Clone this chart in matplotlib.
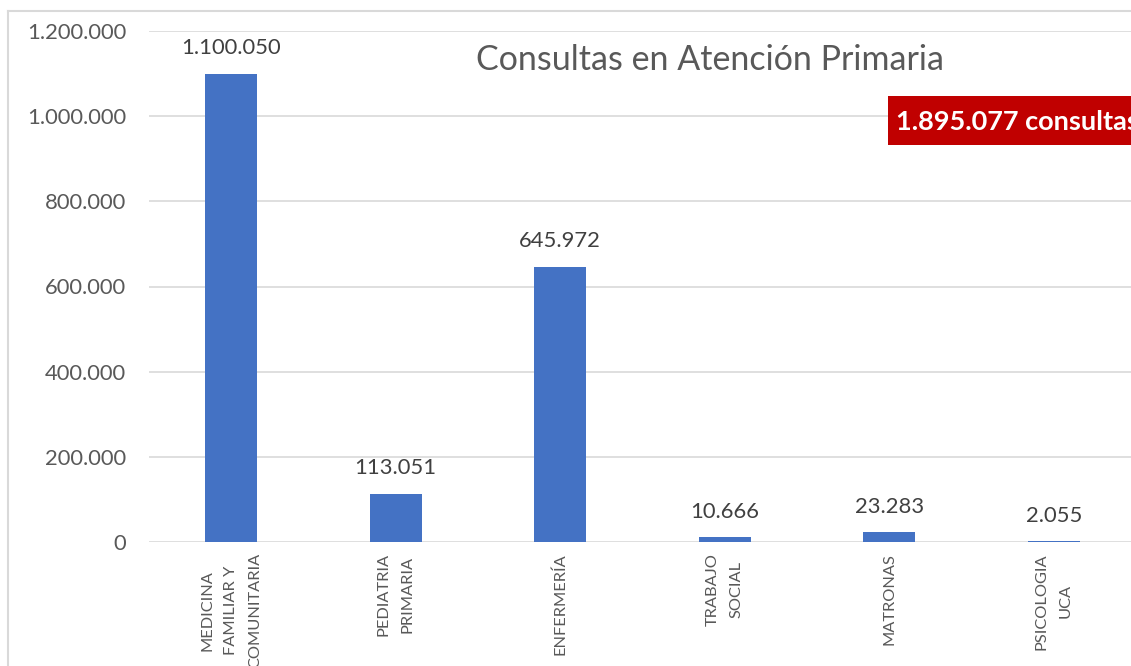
import matplotlib
matplotlib.use("Agg")
import matplotlib.pyplot as plt
from matplotlib.lines import Line2D
from matplotlib.patches import Rectangle

categories = ["MEDICINA\nFAMILIAR Y\nCOMUNITARIA", "PEDIATRIA\nPRIMARIA", "ENFERMERÍA",
              "TRABAJO\nSOCIAL", "MATRONAS", "PSICOLOGIA\nUCA"]
values = [1100050, 113051, 645972, 10666, 23283, 2055]
yticks = [0, 200000, 400000, 600000, 800000, 1000000, 1200000]
title = "Consultas en Atención Primaria"
total_label = "1.895.077 consultas"

def fmt(v):
    return f"{v:,}".replace(",", ".")

plt.rcParams['font.family'] = ['Lato', 'DejaVu Sans']

W, H = 1131, 666
fig = plt.figure(figsize=(W / 100, H / 100), dpi=100)
fig.patch.set_facecolor("white")

ax = fig.add_axes([149 / W, 124 / H, 987 / W, 511 / H])
x = list(range(len(categories)))
ax.bar(x, values, width=0.316, color="#4472C4", zorder=3)
ax.set_xlim(-0.5, 5.5)
ax.set_ylim(0, 1200000)
ax.set_yticks(yticks)
ax.set_yticklabels([fmt(v) for v in yticks], color="#595959", fontsize=15.8)
ax.yaxis.grid(True, color="#D9D9D9", linewidth=1.2, zorder=0)
ax.set_axisbelow(True)
for s in ax.spines.values():
    s.set_visible(False)
ax.tick_params(axis="y", length=0, pad=16.5)
ax.tick_params(axis="x", length=0, pad=8)
ax.set_xticks(x)
ax.set_xticklabels(categories, rotation=90, ha="center", va="top",
                   multialignment="center", color="#595959", fontsize=11.8)
for lbl in ax.get_xticklabels():
    lbl.set_linespacing(1.9)

for xi, v in zip(x, values):
    ax.annotate(fmt(v), (xi, v), xytext=(0, 14), textcoords="offset points",
                ha="center", va="baseline", fontsize=15.8, color="#404040")

# chart frame (left and top edges)
fig.add_artist(Line2D([7.5 / W, 7.5 / W], [0, 1 - 10.5 / H], color="#D9D9D9", lw=1.5,
                      transform=fig.transFigure))
fig.add_artist(Line2D([7.5 / W, 1], [1 - 10.5 / H, 1 - 10.5 / H], color="#D9D9D9", lw=1.5,
                      transform=fig.transFigure))

fig.text(710 / W, 1 - 60 / H, title, ha="center", va="center", fontsize=24.5, color="#595959")

fig.add_artist(Rectangle((888 / W, 1 - 145 / H), 1, 49 / H, transform=fig.transFigure,
                         facecolor="#C00000", edgecolor="none"))
fig.text(896 / W, 1 - 122 / H, total_label, ha="left", va="center", fontsize=19.5,
         fontweight="bold", color="white")

fig.savefig("out.png", dpi=100)
